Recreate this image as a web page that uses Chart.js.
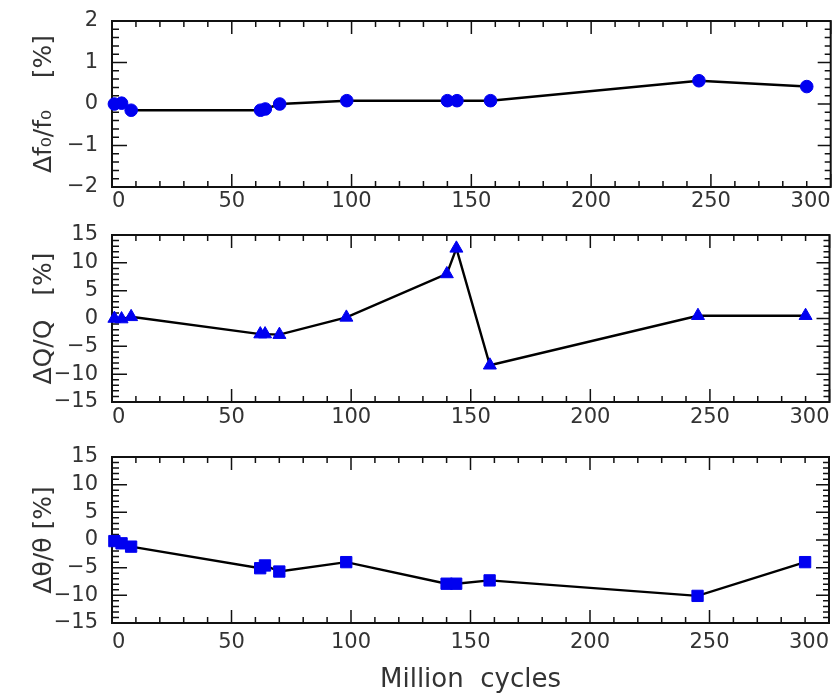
<!DOCTYPE html>
<html><head><meta charset="utf-8">
<script src="https://cdn.jsdelivr.net/npm/chart.js@4.4.1/dist/chart.umd.min.js"></script>
<style>
html,body{margin:0;padding:0;background:#fff;width:838px;height:696px;overflow:hidden}
canvas{position:absolute;left:0}
</style></head><body>
<canvas id="c1" width="838" height="215" style="top:0px"></canvas>
<canvas id="c2" width="838" height="215" style="top:215px"></canvas>
<canvas id="c3" width="838" height="266" style="top:430px"></canvas>
<script>
// ---- data ----
const cycles       = [1, 4, 8, 62, 64, 70, 98, 140, 144, 158, 245, 290];
const freqShift    = [0.0, 0.02, -0.15, -0.15, -0.12, 0.0, 0.08, 0.08, 0.08, 0.08, 0.56, 0.42];
const qualityShift = [0.0, -0.1, 0.3, -2.8, -2.8, -2.9, 0.2, 8.0, 12.6, -8.4, 0.5, 0.5];
const angleShift   = [-0.2, -0.6, -1.2, -5.1, -4.6, -5.7, -4.0, -7.9, -7.9, -7.3, -10.1, -4.0];
const xTickLabels  = [0, 50, 100, 150, 200, 250, 300];
const freqTicks    = [-2, -1, 0, 1, 2];
const pctTicks     = [-15, -10, -5, 0, 5, 10, 15];
const xTitle       = 'Million  cycles';
const yTitles      = ['Δf₀/f₀    [%]', 'ΔQ/Q   [%]', 'Δθ/θ [%]'];

const FONT = 'DejaVu Sans';
const TXT = '#333';
const fmt = v => v < 0 ? '\u2212' + Math.abs(v) : String(v);

const framePlugin = {
  id: 'frame',
  beforeDatasetsDraw(chart, args, o) {
    const {ctx, chartArea: a, scales: {x, y}} = chart;
    ctx.save();
    ctx.strokeStyle = '#111';
    ctx.lineWidth = 1.5;
    ctx.beginPath();
    for (let i = 0; i <= 30; i++) {
      const v = i * 10;
      const px = x.getPixelForValue(v);
      const L = i % 5 === 0 ? 13 : 6;
      ctx.moveTo(px, a.bottom); ctx.lineTo(px, a.bottom - L);
      ctx.moveTo(px, a.top); ctx.lineTo(px, a.top + L);
    }
    const n = Math.round((o.max - o.min) / o.minor);
    for (let i = 0; i <= n; i++) {
      const v = o.min + i * o.minor;
      const py = y.getPixelForValue(v);
      const maj = i % o.per === 0;
      ctx.moveTo(a.left, py); ctx.lineTo(a.left + (maj ? 15 : 7), py);
      ctx.moveTo(a.right, py); ctx.lineTo(a.right - (maj ? 13 : 6), py);
    }
    ctx.stroke();
    ctx.lineWidth = 2;
    ctx.strokeRect(a.left, a.top, a.right - a.left, a.bottom - a.top);
    ctx.restore();
  }
};

function makePanel(id, values, yMin, yMax, yTicks, title, style, radius, topPad, xAxisH, xPad, showXTitle, minor, per) {
  new Chart(document.getElementById(id), {
    type: 'line',
    data: {
      datasets: [{
        data: cycles.map((c, i) => ({x: c, y: values[i]})),
        borderColor: '#000',
        borderWidth: 2.4,
        pointStyle: style,
        pointRadius: radius,
        pointBackgroundColor: '#0000f0',
        pointBorderColor: '#0000f0',
        pointBorderWidth: 1,
        tension: 0,
        clip: false
      }]
    },
    options: {
      responsive: false,
      animation: false,
      devicePixelRatio: 1,
      layout: {padding: {top: topPad, right: 6, left: 0, bottom: 0}},
      plugins: {legend: {display: false}, tooltip: {enabled: false},
        frame: {min: yMin, max: yMax, minor: minor, per: per}},
      scales: {
        x: {
          type: 'linear', min: 0, max: 300,
          afterBuildTicks: s => { s.ticks = xTickLabels.map(v => ({value: v})); },
          grid: {display: false, drawTicks: false},
          border: {display: false},
          ticks: {align: 'inner', padding: xPad, color: TXT, font: {family: FONT, size: 21},
                  maxRotation: 0, autoSkip: false, callback: fmt},
          title: {display: showXTitle, text: xTitle, color: TXT, font: {family: FONT, size: 26},
                  padding: {top: 0, bottom: 0}},
          afterFit: s => { s.height = xAxisH; s.paddingLeft = 0; s.paddingRight = 0; }
        },
        y: {
          type: 'linear', min: yMin, max: yMax,
          afterBuildTicks: s => { s.ticks = yTicks.map(v => ({value: v})); },
          grid: {display: false, drawTicks: false},
          border: {display: false},
          ticks: {padding: 14, color: TXT, font: {family: FONT, size: 21}, autoSkip: false, callback: fmt},
          title: {display: true, text: title, color: TXT, font: {family: FONT, size: 25},
                  padding: {top: 29, bottom: 0}},
          afterFit: s => { s.width = 112; s.paddingTop = 0; s.paddingBottom = 0; }
        }
      }
    },
    plugins: [framePlugin]
  });
}

makePanel('c1', freqShift, -2, 2, freqTicks, yTitles[0], 'circle', 6.3, 21, 28, 2, false, 0.2, 5);
makePanel('c2', qualityShift, -15, 15, pctTicks, yTitles[1], 'triangle', 7.5, 20, 28, 3, false, 1, 5);
makePanel('c3', angleShift, -15, 15, pctTicks, yTitles[2], 'rect', 8, 27, 73, 7, true, 1, 5);
</script>
</body></html>
